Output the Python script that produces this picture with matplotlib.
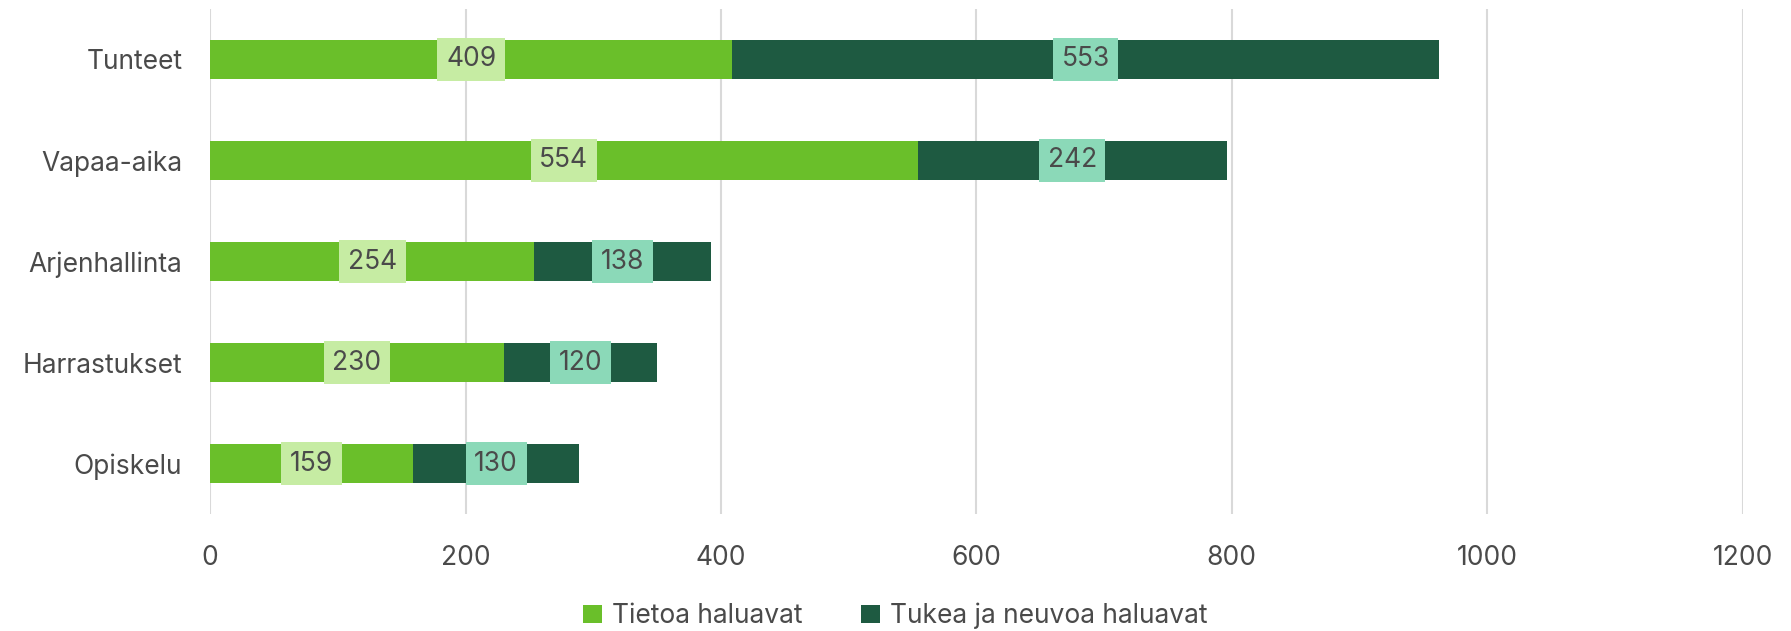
import matplotlib
matplotlib.use("Agg")
import matplotlib.pyplot as plt

categories = ["Tunteet", "Vapaa-aika", "Arjenhallinta", "Harrastukset", "Opiskelu"]
tietoa = [409, 554, 254, 230, 159]
tukea = [553, 242, 138, 120, 130]
series_names = ["Tietoa haluavat", "Tukea ja neuvoa haluavat"]
xticks = [0, 200, 400, 600, 800, 1000, 1200]

plt.rcParams['font.family'] = ['Inter', 'DejaVu Sans']

fig = plt.figure(figsize=(17.91, 6.31), dpi=100)
ax = fig.add_axes([0.1173, 0.185, 0.8557, 0.801])

c1, c2 = "#6abf2a", "#1e5a41"
b1, b2 = "#c6eca3", "#8bd9b8"
tc = "#4a4a4a"
fs = 19

y = list(range(len(categories)))
ax.barh(y, tietoa, height=0.39, color=c1, label=series_names[0], zorder=3)
ax.barh(y, tukea, left=tietoa, height=0.39, color=c2, label=series_names[1], zorder=3)

for i in y:
    ax.text(tietoa[i] / 2, i, str(tietoa[i]), ha="center", va="center", fontsize=fs, color=tc, zorder=5,
            bbox=dict(boxstyle="square,pad=0.33", fc=b1, ec="none"))
    ax.text(tietoa[i] + tukea[i] / 2, i, str(tukea[i]), ha="center", va="center", fontsize=fs, color=tc, zorder=5,
            bbox=dict(boxstyle="square,pad=0.33", fc=b2, ec="none"))

ax.set_ylim(len(categories) - 0.5, -0.5)
ax.set_xlim(0, 1200)
ax.set_yticks(y)
ax.set_yticklabels(categories, fontsize=fs, color=tc)
ax.set_xticks(xticks)
ax.set_xticklabels([str(v) for v in xticks], fontsize=fs, color=tc)
ax.tick_params(axis="both", length=0)
ax.tick_params(axis="x", pad=22)
ax.tick_params(axis="y", pad=20)
for s in ax.spines.values():
    s.set_visible(False)
ax.grid(axis="x", color="#d9d9d9", linewidth=1.5, zorder=0)
ax.set_axisbelow(True)

leg = fig.legend(loc="lower center", bbox_to_anchor=(0.5, -0.035), ncol=2, frameon=False,
                 prop=dict(size=fs), handlelength=0.7, handleheight=0.7,
                 columnspacing=2.2, handletextpad=0.4)
for t in leg.get_texts():
    t.set_color(tc)

fig.savefig("out.png", dpi=100)
